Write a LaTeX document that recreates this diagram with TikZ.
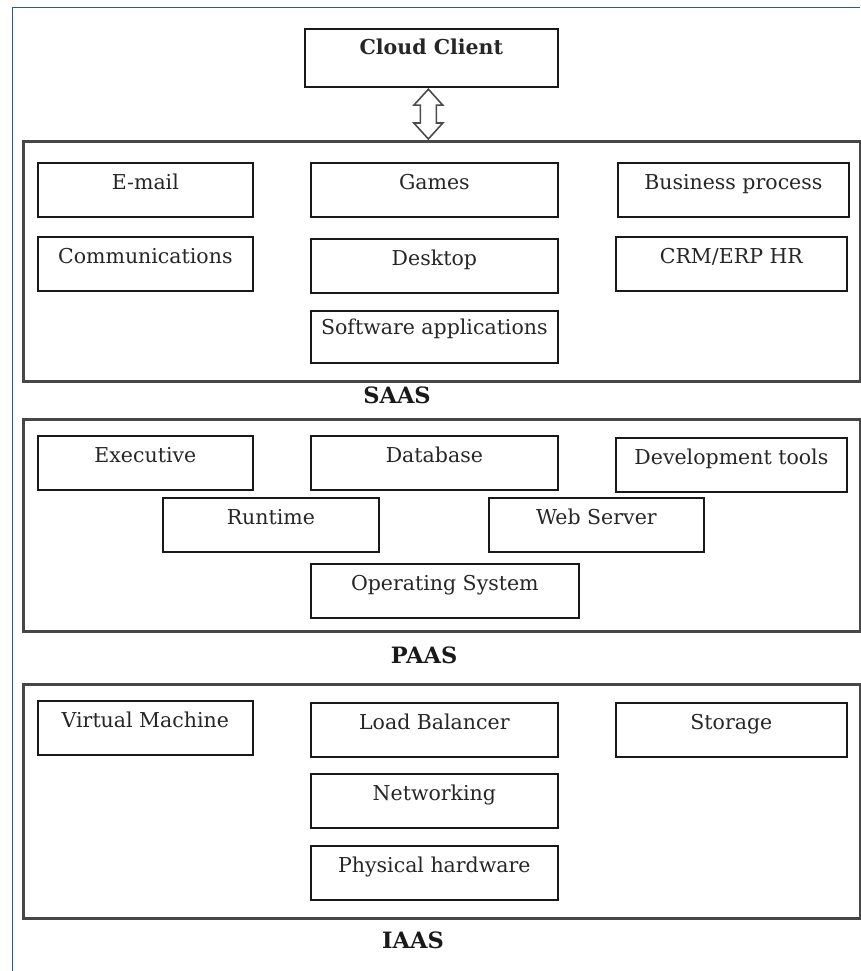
\documentclass[tikz,border=0pt]{standalone}
\usepackage{fontspec}
\setmainfont{DejaVu Serif}
\usepackage{xcolor}
\usepackage{tikz}
\usetikzlibrary{positioning,calc}

\definecolor{framecol}{RGB}{40,90,140}

\begin{document}
\begin{tikzpicture}[
    x=1pt, y=-1pt,
    item/.style={rectangle, draw=black!90, line width=1.7pt, anchor=north west, inner xsep=0pt, inner ysep=0pt,
        text height=27pt, text depth=27pt, minimum height=54pt, font=\fontsize{20.5}{24}\selectfont, text=black!85},
    layer/.style={rectangle, draw=black!72, line width=2.6pt, anchor=north west, minimum width=837pt},
    layername/.style={font=\fontsize{22.5}{26}\selectfont\bfseries, text=black!90},
    linkarrow/.style={draw=black!70, line width=1.6pt, fill=white, line join=miter}
]
    \useasboundingbox (0,0) rectangle (860,971);
    \draw[framecol, line width=1.8pt] (12.5,971) -- (12.5,7.5) -- (860,7.5);

    % client
    \node[item, minimum width=253pt, minimum height=58pt, text height=26pt, text depth=32pt,
        font=\fontsize{20.5}{24}\selectfont\bfseries] (client) at (304,28) {Cloud Client};

    % SaaS
    \node[layer, minimum height=240pt] (saas) at (22,140) {};
    \node[layername] (saaslbl) at (397,395) {SAAS};
    \node[item, minimum width=215pt] (email) at (37,162) {E-mail};
    \node[item, minimum width=247pt] (games) at (310,162) {Games};
    \node[item, minimum width=231pt] (business) at (617,162) {Business process};
    \node[item, minimum width=215pt] (comms) at (37,236) {Communications};
    \node[item, minimum width=247pt] (desktop) at (310,238) {Desktop};
    \node[item, minimum width=231pt] (crm) at (615,236) {CRM/ERP HR};
    \node[item, minimum width=247pt, text height=24pt, text depth=28pt, minimum height=52pt] (software) at (310,310) {Software applications};

    % PaaS
    \node[layer, minimum height=212pt] (paas) at (22,418) {};
    \node[layername] (paaslbl) at (424,655) {PAAS};
    \node[item, minimum width=215pt] (executive) at (37,435) {Executive};
    \node[item, minimum width=247pt] (database) at (310,435) {Database};
    \node[item, minimum width=231pt] (devtools) at (615,437) {Development tools};
    \node[item, minimum width=216pt] (runtime) at (162,497) {Runtime};
    \node[item, minimum width=215pt] (webserver) at (488,497) {Web Server};
    \node[item, minimum width=268pt] (opsys) at (310,563) {Operating System};

    % IaaS
    \node[layer, minimum height=234pt] (iaas) at (22,683) {};
    \node[layername] (iaaslbl) at (413,940) {IAAS};
    \node[item, minimum width=215pt] (vm) at (37,700) {Virtual Machine};
    \node[item, minimum width=247pt] (loadbal) at (310,702) {Load Balancer};
    \node[item, minimum width=231pt] (storage) at (615,702) {Storage};
    \node[item, minimum width=247pt] (networking) at (310,773) {Networking};
    \node[item, minimum width=247pt] (physical) at (310,845) {Physical hardware};

    % client <-> saas
    \coordinate (atop) at ($(client.south)+(-3,1.5)$);
    \coordinate (abot) at ($(client.south |- saas.north)+(-3,-1)$);
    \draw[linkarrow] (atop) -- ++(14.5,16) -- ++(-6.5,0) -- ($(abot)+(8,-16)$) -- ++(6.5,0) -- (abot)
        -- ++(-14.5,-16) -- ++(6.5,0) -- ($(atop)+(-8,16)$) -- ++(-6.5,0) -- cycle;
\end{tikzpicture}
\end{document}
